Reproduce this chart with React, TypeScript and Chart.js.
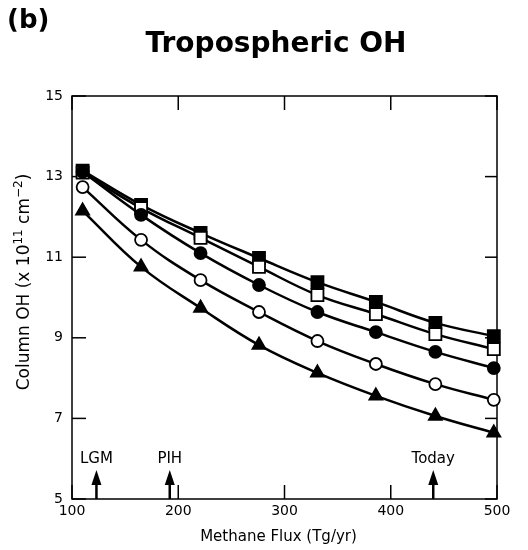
import React, { useEffect, useRef } from "react";
import { Chart, registerables } from "chart.js";
Chart.register(...registerables);

// ---- data ----
const fluxX = [110, 165, 221, 276, 331, 386, 442, 497];
const seriesFilledSquare = [13.15, 12.3, 11.6, 10.98, 10.38, 9.89, 9.37, 9.04];
const seriesOpenSquare = [13.1, 12.22, 11.48, 10.76, 10.06, 9.59, 9.09, 8.72];
const seriesFilledCircle = [13.12, 12.05, 11.1, 10.31, 9.64, 9.14, 8.65, 8.25];
const seriesOpenCircle = [12.74, 11.43, 10.43, 9.64, 8.92, 8.35, 7.85, 7.46];
const seriesTriangle = [12.15, 10.76, 9.74, 8.82, 8.13, 7.56, 7.06, 6.64];
const yTicks = [5, 7, 9, 11, 13, 15];
const xTicks = [100, 200, 300, 400, 500];
const eventLabels = ["LGM", "PIH", "Today"];
const eventFlux = [123, 192, 440];

const FONT = "'DejaVu Sans', 'Liberation Sans', Arial, sans-serif";

const decor = {
  id: "decor",
  beforeDatasetsDraw(chart: any) {
    const { ctx, chartArea: a, scales } = chart;
    const xs = scales.x, ys = scales.y;
    ctx.save();
    ctx.strokeStyle = "#000";
    ctx.lineWidth = 1.5;
    ctx.strokeRect(a.left, a.top, a.right - a.left, a.bottom - a.top);
    const line = (x1: number, y1: number, x2: number, y2: number) => {
      ctx.beginPath(); ctx.moveTo(x1, y1); ctx.lineTo(x2, y2); ctx.stroke();
    };
    yTicks.forEach((v) => {
      const y = ys.getPixelForValue(v);
      line(a.left, y, a.left + 14, y);
      line(a.right, y, a.right - 12, y);
    });
    xTicks.forEach((v) => {
      const x = xs.getPixelForValue(v);
      line(x, a.bottom, x, a.bottom - 14);
      line(x, a.top, x, a.top + 14);
    });
    // event arrows
    ctx.fillStyle = "#000";
    ctx.font = `15px ${FONT}`;
    ctx.textAlign = "center";
    ctx.textBaseline = "alphabetic";
    eventFlux.forEach((f, i) => {
      const x = xs.getPixelForValue(f);
      const tip = a.bottom - 29;
      ctx.lineWidth = 2.5;
      line(x, a.bottom, x, tip + 10);
      ctx.beginPath();
      ctx.moveTo(x, tip);
      ctx.lineTo(x - 5, tip + 15);
      ctx.lineTo(x + 5, tip + 15);
      ctx.closePath();
      ctx.fill();
      ctx.fillText(eventLabels[i], x, tip - 7);
    });
    ctx.restore();
  },
  afterDraw(chart: any) {
    const { ctx, chartArea: a } = chart;
    ctx.save();
    ctx.fillStyle = "#000";
    ctx.textBaseline = "alphabetic";
    // panel label
    ctx.font = `bold 26px ${FONT}`;
    ctx.textAlign = "left";
    ctx.fillText("(b)", 7, 28);
    // title
    ctx.font = `bold 28px ${FONT}`;
    ctx.textAlign = "center";
    ctx.fillText("Tropospheric OH", 276, 52);
    // x title
    ctx.font = `15px ${FONT}`;
    ctx.fillText("Methane Flux (Tg/yr)", (a.left + a.right) / 2 - 6, 541);
    // y title with superscripts
    const parts: [string, boolean][] = [
      ["Column OH (x 10", false],
      ["11", true],
      [" cm", false],
      ["\u22122", true],
      [")", false],
    ];
    const big = `17px ${FONT}`, small = `12px ${FONT}`;
    let total = 0;
    parts.forEach(([t, s]) => { ctx.font = s ? small : big; total += ctx.measureText(t).width; });
    ctx.translate(29, 282);
    ctx.rotate(-Math.PI / 2);
    ctx.textAlign = "left";
    let x = -total / 2;
    parts.forEach(([t, s]) => {
      ctx.font = s ? small : big;
      ctx.fillText(t, x, s ? -7 : 0);
      x += ctx.measureText(t).width;
    });
    ctx.restore();
  },
};

const mk = (vals: number[], style: string, filled: boolean, radius: number) => ({
  data: fluxX.map((x, i) => ({ x, y: vals[i] })),
  borderColor: "#000",
  borderWidth: 2.5,
  pointStyle: style,
  pointRadius: radius,
  pointBorderWidth: 1.8,
  pointBackgroundColor: filled ? "#000" : "#fff",
  pointBorderColor: "#000",
  tension: 0.4,
  fill: false,
  clip: false,
});

export default function App() {
  const ref = useRef<HTMLCanvasElement>(null);
  useEffect(() => {
    const chart = new Chart(ref.current as HTMLCanvasElement, {
      type: "line",
      data: {
        datasets: [
          mk(seriesFilledCircle, "circle", true, 6),
          mk(seriesOpenSquare, "rect", false, 8.5),
          mk(seriesFilledSquare, "rect", true, 8.5),
          mk(seriesOpenCircle, "circle", false, 6),
          mk(seriesTriangle, "triangle", true, 7.5),
        ] as any,
      },
      options: {
        responsive: false,
        animation: false,
        devicePixelRatio: 1,
        layout: { padding: { top: 96, right: 31, left: 0, bottom: 0 } },
        plugins: { legend: { display: false }, tooltip: { enabled: false } },
        scales: {
          x: {
            type: "linear",
            min: 100,
            max: 500,
            grid: { display: false, drawTicks: false },
            border: { display: false },
            ticks: { color: "#000", font: { family: FONT, size: 14 }, padding: 4, maxRotation: 0, autoSkip: false },
            afterBuildTicks: (s: any) => { s.ticks = xTicks.map((v) => ({ value: v })); },
            afterFit: (s: any) => { s.height = 51; },
          },
          y: {
            type: "linear",
            min: 5,
            max: 15,
            grid: { display: false, drawTicks: false },
            border: { display: false },
            ticks: { color: "#000", font: { family: FONT, size: 14 }, padding: 9 },
            afterBuildTicks: (s: any) => { s.ticks = yTicks.map((v) => ({ value: v })); },
            afterFit: (s: any) => { s.width = 72; },
          },
        },
      } as any,
      plugins: [decor],
    });
    return () => chart.destroy();
  }, []);
  return (
    <div style={{ position: "absolute", left: 0, top: 0, width: 528, height: 550, background: "#fff" }}>
      <canvas ref={ref} width={528} height={550} style={{ display: "block", width: 528, height: 550 }} />
    </div>
  );
}
